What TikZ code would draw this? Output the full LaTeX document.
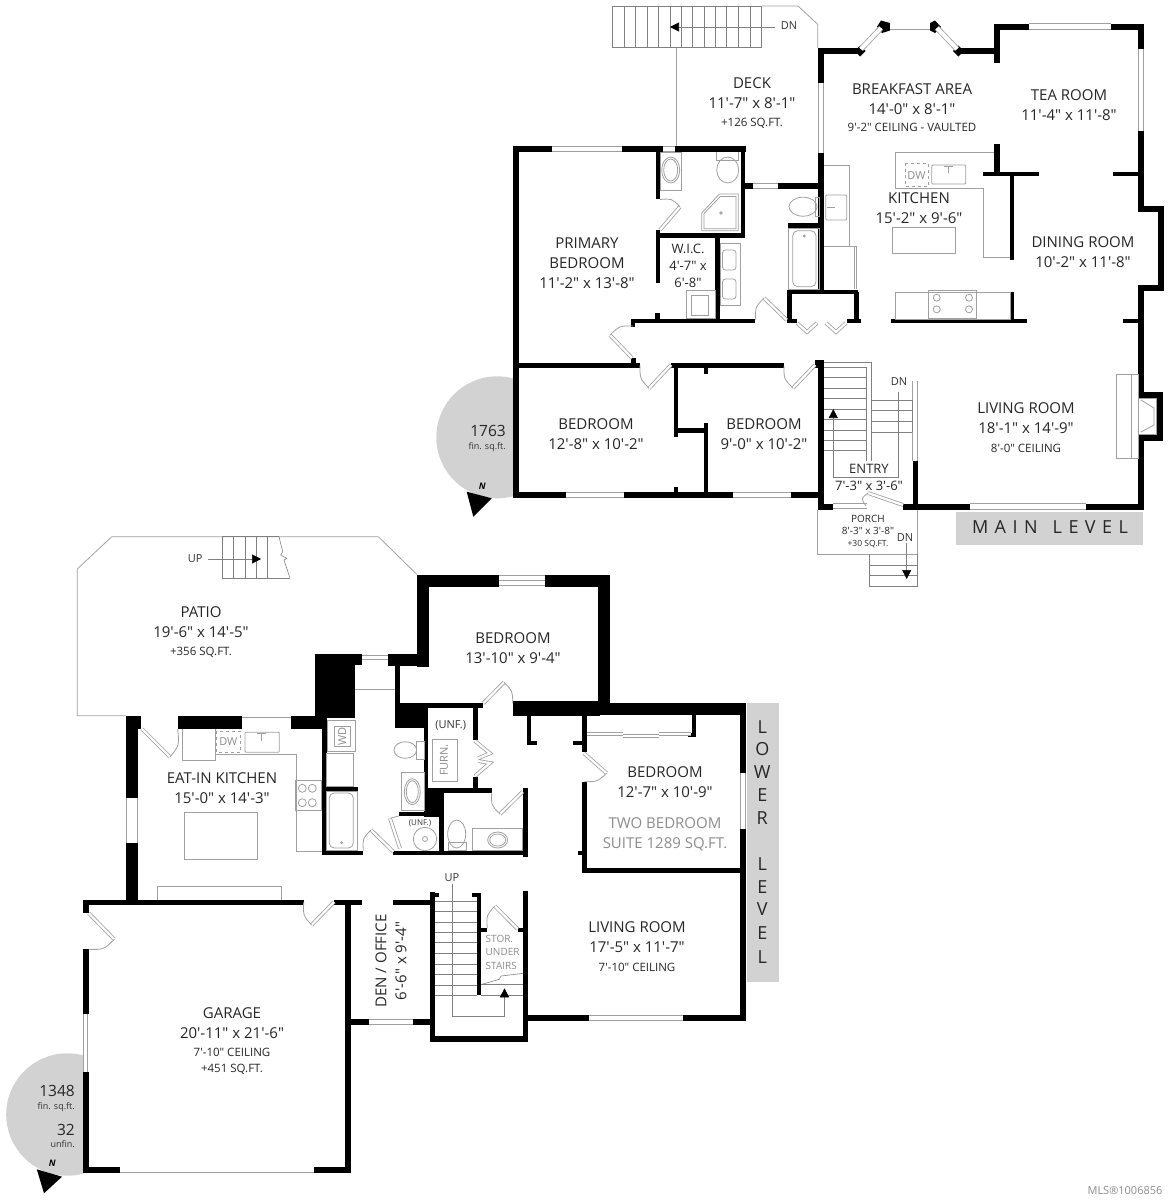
\documentclass[tikz,border=0pt]{standalone}
\usepackage{fontspec}
\usepackage{tikz}
\usetikzlibrary{calc,arrows.meta}
\newfontfamily\planfont{Open Sans}
\newfontfamily\bannerfont[LetterSpace=36]{Open Sans}
\definecolor{fixgray}{HTML}{A0A0A0}
\definecolor{pad}{HTML}{D2D2D2}
\definecolor{suite}{HTML}{8C8C8C}
\newcommand\sm[1]{{\fontsize{11.5}{17}\selectfont #1}}
\tikzset{
  wall/.style={draw=black,line width=#1,line join=miter},
  wall/.default=5pt,
  win/.style={draw=fixgray,line width=.8pt,double=white,double distance=#1},
  win/.default=4.5pt,
  fix/.style={draw=fixgray,line width=.8pt},
  tread/.style={draw=gray,line width=.6pt},
  doorleaf/.style={draw=fixgray,line width=.8pt,double=white,double distance=2.2pt},
  doorarc/.style={draw=fixgray,line width=.8pt},
  stairrun/.style={draw=gray,line width=.6pt,-{Triangle[color=black,length=9pt,width=9pt]}},
  room/.style={align=center,inner sep=0pt,text=black!85,font=\planfont\fontsize{15}{20}\selectfont},
  tag/.style={inner sep=0pt,text=black!80,font=\planfont\fontsize{11}{13}\selectfont},
  grayroom/.style={room,text=suite},
}
\newcommand\swingdoor[3]{%
  \draw[doorleaf] (#1) -- (#2);
  \draw[doorarc] (#2) .. controls ($.586*(#2)+.586*(#3)-.172*(#1)$) .. (#3);}
\begin{document}
\begin{tikzpicture}[x=1pt,y=-1pt]
\useasboundingbox (0,0) rectangle (1170,1200);

\begin{scope}
\clip (400,350) rectangle (516,520);
\fill[pad] (497.3,437.3) circle (61);
\end{scope}
\begin{scope}
\clip (0,1040) rectangle (85,1190);
\fill[pad] (67.4,1114.5) circle (61.2);
\end{scope}
\fill[pad] (956,511.7) rectangle (1143.3,545);
\fill[pad] (746.7,702.7) rectangle (779.3,981.7);
\fill[black] (466.7,491.7) -- (491.7,498.3) -- (473.3,516.7) -- cycle;
\fill[black] (36.8,1169.3) -- (62,1176.7) -- (44,1193.3) -- cycle;

% main level
\draw[fix] (676.7,47.7) -- (676.7,146);
\draw[fix] (761.7,6) -- (798,6) -- (817.7,24.3) -- (817.7,48);
\draw[tread] (612.7,6) rectangle (761.7,47.7);
\foreach \tx in {624,635.7,647.3,658.7,670,681.3,692.7,704,715.7,726.7,738.3,750}
  \draw[tread] (\tx,6) -- (\tx,47.7);
\draw[stairrun] (775,27) -- (670,27);
\node[tag] (deckdn) at (789,26) {DN};

\draw[wall=6.5pt] (552.3,149) -- (516,149) -- (516,495) -- (566,495);
\draw[wall=6.5pt] (622,149) -- (663,149) (675,149) -- (746,149);
\draw[wall=6.5pt] (624,495) -- (733,495) (791,495) -- (821,495);
\draw[win] (552.3,149) -- (622,149);
\draw[win] (663,149) -- (675,149);
\draw[win] (566,495) -- (624,495);
\draw[win] (733,495) -- (791,495);
\draw[wall=4.5pt] (658,149) -- (658,199.3) (658,230) -- (658,282.7) (657.7,313) -- (657.7,321);
\draw[wall=4.5pt] (658,235.5) -- (745,235.5);
\draw[wall=4.6pt] (743,149) -- (743,237);
\draw[wall=4.6pt] (717.5,235) -- (717.5,321);
\draw[wall=5.5pt] (745,186) -- (753,186) (778,186) -- (821,186);
\draw[win] (753,186) -- (778,186);
\draw[wall=4.5pt] (631,321) -- (755,321);
\draw[wall=4.5pt] (633,320) -- (633,327);
\draw[wall=5pt] (516,365) -- (640,365);
\draw[wall=5pt] (633,358) -- (633,363);
\draw[wall=5pt] (671,365) -- (784,365) (815,365) -- (823,365);
\draw[wall=4.6pt] (676,365) -- (676,437);
\draw[wall=5pt] (676,430) -- (706,430);
\draw[wall=4.6pt] (706,423) -- (706,495);
\draw[wall=4.6pt] (706,365) -- (706,374);
\draw[wall=4.6pt] (676,487) -- (676,492);

\draw[wall=6.5pt] (860,51) -- (821,51) -- (821,82.7);
\draw[win] (821,82.7) -- (821,153);
\draw[wall=6.5pt] (821,153) -- (821,290);
\draw[wall=4.5pt] (788,225.7) -- (821,225.7);
\draw[wall=4.5pt] (787,292) -- (858,292);
\draw[wall=4.5pt] (789.5,292) -- (789.5,323.3);
\draw[wall=4.5pt] (787,321) -- (797,321);
\draw[wall=5pt] (856,292) -- (856,323);
\draw[wall=4.5pt] (847,321) -- (861,321);
\draw[wall=4.5pt] (891,321) -- (1026.7,321);
\draw[wall=4.6pt] (1012,292) -- (1012,321);
\fill[black] (860,45.5) -- (865.5,51) -- (860,56.5) -- (854.5,51) -- cycle;
\fill[black] (881,20.5) -- (890,23) -- (890,30.5) -- (882,33) -- (877,26.7) -- cycle;
\fill[black] (935,20.5) -- (930,23) -- (930,30.5) -- (935,33) -- (941,27) -- cycle;
\fill[black] (958.3,45.5) -- (963.8,51) -- (958.3,56.5) -- (952.8,51) -- cycle;
\draw[win=4pt] (861,49) -- (881,28);
\draw[win=4.5pt] (890,26.7) -- (930,26.7);
\draw[win=4pt] (937,28) -- (957,49);
\draw[wall=6pt] (958,51) -- (997,51);
\draw[wall=6pt] (997,63.3) -- (997,26.5) -- (1029,26.5);
\draw[win=4.5pt] (1029,26.5) -- (1111,26.5);
\draw[wall=6pt] (1111,26.5) -- (1141,26.5) -- (1141,49);
\draw[win=4.5pt] (1141,49) -- (1141,131);
\draw[wall=6pt] (1141,131) -- (1141,208.7) -- (1161,208.7) -- (1161,287.5) -- (1141,287.5) -- (1141,394.5) -- (1160,394.5) -- (1160,437.5) -- (1141,437.5) -- (1141,506.7) -- (1086,506.7);
\draw[win=5pt] (970,506.7) -- (1086,506.7);
\draw[wall=6pt] (970,506.7) -- (903,506.7);
\draw[win=3.5pt] (833,506) -- (867,506);
\draw[wall=6pt] (833,506.7) -- (821,506.7) -- (821,362.7) -- (815,362.7);
\draw[wall=6pt] (997,144) -- (997,173);
\draw[wall=4.5pt] (983,174) -- (1039,174);
\draw[wall=4.8pt] (1012,174) -- (1012,260);
\draw[wall=4.5pt] (1113,174) -- (1141,174);
\draw[wall=4.5pt] (1123,321) -- (1141,321);
\draw[wall=5pt] (915,460.7) -- (915,507);
\draw[win=3.5pt] (915,380.7) -- (915,460.7);
\swingdoor{660,230}{680,206.7}{660,199.5}
\swingdoor{632,358}{610,335}{633,326}
\swingdoor{671,365}{649,388.3}{640,365}
\swingdoor{815,365}{793,388}{784,366}
\swingdoor{786.7,320}{764,298}{755.7,320}
\swingdoor{903,505}{868,493}{866,506}
\draw[doorleaf] (797,323) -- (807,332) -- (817,323) (826,323) -- (836,332) -- (846,323);

\draw[fix] (660,152) rectangle (681.7,190);
\draw[fix] (670.7,170) ellipse (9 and 13) (670.7,170) ellipse (7 and 11);
\draw[fix] (716.7,152) -- (716.7,160) -- (738.7,160) -- (738.7,152);
\draw[fix] (727.7,170) ellipse (11 and 13);
\draw[fix] (701.7,213) -- (719.3,194) -- (738.3,194) -- (738.3,230.7) -- (701.7,230.7) -- cycle;
\draw[fix] (704,213.5) -- (720.3,196.5) -- (736,196.5) -- (736,228.7) -- (704,228.7) -- cycle;
\draw[fix] (721,213) circle (1.3);
\draw[fix] (686.7,290.7) rectangle (715,318.3);
\draw[fix] (691,295) rectangle (708.5,315);
\draw[fix] (720,243) rectangle (740,305);
\draw[fix,rounded corners=3pt] (722.5,250) rectangle (736,270) (722.5,279) rectangle (736,299);
\draw[fix] (803,206.7) ellipse (14 and 9.5);
\draw[fix] (815,197) -- (819,197) -- (819,216.5) -- (815,216.5) (815,197) -- (815,216.5);
\draw[fix] (788.3,228.3) rectangle (819.3,289.3);
\draw[fix,rounded corners=5pt] (792.7,230.7) rectangle (816,286.7);
\draw[fix] (804.3,236) circle (1);
\draw[fix] (824,165) -- (849.3,165) -- (849.3,246.7) -- (824,246.7);
\draw[fix,rounded corners=1pt] (825.7,195) rectangle (846.7,220);
\draw[fix] (827,207) -- (835,207);
\draw[fix] (824,246.7) -- (856.7,246.7) -- (856.7,289.3);
\draw[fix] (854,246.7) -- (854,289.3);
\draw[fix] (994,152.7) -- (895.7,152.7) -- (895.7,188.3) -- (983.3,188.3) -- (983.3,257.3) -- (1010,257.3);
\draw[fix,dashed] (905,163.3) rectangle (928,186.7);
\node[tag,text=suite] (kitdw) at (916.5,175.5) {DW};
\draw[fix,rounded corners=1pt] (931.7,165) rectangle (965.7,184);
\draw[fix] (948.7,166) -- (948.7,173) (944,166) -- (953,166);
\draw[fix] (892.3,227.3) rectangle (955,253.3);
\draw[fix] (895.7,292.7) rectangle (1010,319);
\draw[fix] (928.3,290.7) rectangle (976.7,318.3);
\foreach \bx/\by in {936.7/297.7,936.7/309.3,969/297.7,969/309.3}
  \draw[fix] (\bx,\by) circle (3.5);

\draw[tread] (824,362.7) -- (871,362.7) -- (871,460.7);
\draw[tread] (866,367.3) -- (866,460.7);
\foreach \ty in {367.3,377.7,388,398.3,409.3,419.3,430,440.3,450.7}
  \draw[tread] (824,\ty) -- (866,\ty);
\foreach \ty in {400,410.7,421.7,432.3}
  \draw[tread] (871,\ty) -- (912.3,\ty);
\draw[tread] (912.3,400) -- (912.3,432.3);
\draw[stairrun] (898.7,391.7) -- (898.7,477.3) -- (833.3,477.3) -- (833.3,409);
\node[tag] (halldn) at (899,382) {DN};
\draw[fix] (817.3,510) -- (817.3,554.3) -- (917.7,554.3) -- (917.7,510);
\draw[tread] (869.3,554.3) -- (869.3,586) -- (917.7,586) -- (917.7,554.3);
\draw[tread] (869.3,565) -- (917.7,565) (869.3,575.3) -- (917.7,575.3);
\draw[stairrun] (906.7,543.3) -- (906.7,579);
\node[tag] (porchdn) at (905,538) {DN};
\draw[fix] (1116.7,374) rectangle (1138,458.3);
\draw[fix] (1131.7,374) -- (1131.7,458.3);
\draw[fix] (1138,398.3) rectangle (1156.7,434);
\draw[fix] (1141,400) -- (1154,408) -- (1154,425) -- (1141,432);

% lower level
\draw[fix] (125.7,715.7) -- (77.3,715.7) -- (77.3,569) -- (111.7,536.7) -- (378.3,536.7) -- (416.7,574.3);
\draw[tread] (279,536.7) -- (222.7,536.7) -- (222.7,578.3) -- (290,578.3);
\foreach \tx in {233.3,245,256.7,267.7}
  \draw[tread] (\tx,536.7) -- (\tx,578.3);
\draw[tread] (279,536.7) -- (282.7,551.7) -- (280.7,555) -- (286.7,558.3) -- (284,560) -- (290,578.3);
\draw[stairrun] (208.3,559) -- (261,559);
\node[tag] (patioup) at (195.3,559) {UP};

\draw[wall=12pt] (499,580.5) -- (422.8,580.5) -- (422.8,667);
\draw[wall=12pt] (545,580.5) -- (603.5,580.5) -- (603.5,703);
\draw[win=9pt] (499,580.5) -- (545,580.5);
\draw[fix] (499,580.5) -- (545,580.5);
\draw[wall=15pt] (513,708.3) -- (600,708.3);
\draw[wall=12pt] (600,709) -- (746,709);
\fill[black] (388.3,654) rectangle (429,666);
\fill[black] (315,654) rectangle (362,665);
\fill[black] (315,654) rectangle (354.5,718);
\draw[win=8pt] (362,659.5) -- (388.3,659.5);
\draw[fix] (362,659.5) -- (388.3,659.5);
\draw[wall=5pt] (397.5,665) -- (397.5,703);
\fill[black] (395,703.3) rectangle (428.3,728.3);
\draw[wall=5pt] (428,705.5) -- (482.7,705.5);
\fill[black] (291,716) rectangle (327,729);
\fill[black] (177.7,716) rectangle (241.7,729);
\fill[black] (125.7,716) rectangle (141,729);
\draw[win=10pt] (241.7,722.5) -- (290.7,722.5);
\draw[wall=12.6pt] (132,716) -- (132,798.3) (132,843.3) -- (132,902);
\draw[win=10.5pt] (132,798.3) -- (132,843.3);
\draw[wall=4.5pt] (324.7,718) -- (324.7,855);
\draw[wall=4.5pt] (324.7,789) -- (358,789);
\draw[wall=4.5pt] (322.7,853) -- (362.7,853) (393.3,853) -- (527.7,853);
\draw[wall=4pt] (426.3,705) -- (426.3,790);
\fill[black] (424.3,788) rectangle (443.3,816.7);
\draw[wall=4.5pt] (426,790.5) -- (491.7,790.5);
\draw[wall=4.5pt] (475.5,705) -- (475.5,740) (475.5,776.7) -- (475.5,790);
\draw[wall=4.4pt] (399,814) -- (430,814);
\draw[wall=5pt] (441,790) -- (441,853);
\draw[wall=4.6pt] (529,716) -- (529,745);
\draw[wall=4pt] (527,743) -- (536.7,743);
\draw[wall=4.4pt] (584.5,715) -- (584.5,751.7) (584.5,781.7) -- (584.5,872.7);
\draw[wall=4pt] (573,743) -- (586,743) (577.7,853) -- (586,853);
\draw[wall=4.4pt] (584,870.5) -- (742,870.5);
\draw[wall=4pt] (693.7,715) -- (693.7,737);
\draw[wall=4pt] (688,735) -- (695.7,735);
\draw[win=1.6pt] (587,734) -- (623,734);
\draw[win=1.6pt] (623,736) -- (659,736);
\draw[win=1.6pt] (659,734) -- (691,734);
\draw[wall=6pt] (743,703) -- (743,773.3) (743,829.3) -- (743,1021);
\draw[win=4.5pt] (743,773.3) -- (743,829.3);
\draw[wall=6pt] (746,1018) -- (682.7,1018);
\draw[wall=6pt] (589,1018) -- (525,1018);
\draw[win=4.5pt] (589,1018) -- (682.7,1018);
\draw[wall=4.4pt] (525.5,788) -- (525.5,856.7);
\draw[wall=4.4pt] (525.5,890.7) -- (525.5,1041.7);
\draw[wall=4pt] (518,929.7) -- (525.5,929.7);
\draw[wall=5.7pt] (432.5,891.7) -- (432.5,1039) -- (527.5,1039);
\draw[wall=4pt] (430,895) -- (439,895);
\draw[wall=4pt] (479,894) -- (479,995);
\draw[wall=4pt] (472,895) -- (481,895);
\draw[wall=4pt] (479,929.7) -- (487,929.7);
\draw[wall=5pt] (82.6,902.5) -- (303.7,902.5);
\draw[wall=5pt] (334,902.5) -- (362.3,902.5) (392.6,902.5) -- (430.5,902.5);
\draw[wall=6pt] (85.7,900) -- (85.7,913.3) (85.7,949.3) -- (85.7,1014.3) (85.7,1072.3) -- (85.7,1173.3);
\draw[win=3.5pt] (85.7,1014.3) -- (85.7,1072.3);
\draw[wall=6pt] (82.6,1170.3) -- (119.5,1170.3) (314.4,1170.3) -- (350.5,1170.3);
\draw[win=4pt] (119.5,1170.3) -- (314.4,1170.3);
\draw[wall=5.5pt] (347.8,902.5) -- (347.8,1173);
\draw[wall=6pt] (348,1022) -- (368.5,1022) (413.2,1022) -- (432,1022);
\draw[win=4pt] (368.5,1022) -- (413.2,1022);
\swingdoor{483.3,703.3}{504,682.3}{512.7,703.3}
\swingdoor{584,753.3}{606.7,773.3}{584,781.7}
\swingdoor{393.3,851.7}{371,830}{363.3,850.7}
\swingdoor{522.7,791.7}{500,814}{491.7,792.7}
\swingdoor{142,729}{170,757}{177.7,729}
\swingdoor{517.6,929}{494.8,906}{487.3,928.3}
\swingdoor{334,902}{311.6,925}{303.7,902}
\swingdoor{88.8,913.3}{114.3,939.3}{88.8,949.3}
\draw[doorleaf] (475,741) -- (490,753.3) -- (478,758.3) (478,761) -- (490,763) -- (475,776);
\draw[doorleaf] (390,818.3) -- (400,848.3);
\draw[fix] (390,818.3) -- (399,816);

\draw[fix] (355,689) -- (395,689);
\draw[fix] (327.7,720) rectangle (355,751.7);
\draw[fix] (334,726.7) rectangle (350.7,746.7);
\node[tag,text=suite,rotate=90] (lowwd) at (342.3,736.7) {WD};
\draw[fix] (326.7,753.3) rectangle (353.3,786.7);
\draw[fix] (326.7,791) rectangle (357.3,850.7);
\draw[fix,rounded corners=5pt] (329.3,793) rectangle (353.3,848);
\draw[fix] (341.7,842.7) circle (1);
\draw[fix] (405.3,750) ellipse (11.3 and 8.3);
\draw[fix] (416.7,741) rectangle (424,759.5);
\draw[fix] (401.7,772.7) rectangle (424,810);
\draw[fix] (412.3,791.7) ellipse (8 and 13) (412.3,791.7) ellipse (6 and 11);
\draw[fix] (425,839) circle (11.7) (425,839) circle (2.5);
\draw[fix] (456.7,834) ellipse (9 and 14);
\draw[fix] (448,842) rectangle (466,850.7);
\draw[fix] (472.3,828.3) rectangle (522.7,850.7);
\draw[fix] (497.7,840) ellipse (10 and 8) (497.7,840) ellipse (8 and 6);
\draw[fix] (432.3,739.3) rectangle (457.3,781.7);
\draw[fix] (182.3,729) -- (182.3,760.7) -- (215.7,760.7) -- (215.7,729);
\draw[fix,dashed] (216.7,731) rectangle (240,752.7);
\node[tag,text=suite] (lowdw) at (228.3,742) {DW};
\draw[fix,rounded corners=1pt] (245,732.3) rectangle (279.3,752.3);
\draw[fix] (261.5,733) -- (261.5,741) (257,733) -- (266,733);
\draw[fix] (215.7,754) -- (296.7,754) -- (296.7,851.7) -- (322.3,851.7);
\draw[fix] (295.7,780) rectangle (321.7,810);
\foreach \bx/\by in {302.3/788.3,312.3/788.3,302.3/802.7,312.3/802.7}
  \draw[fix] (\bx,\by) circle (4);
\draw[fix] (184,812.7) rectangle (257.3,859.3);
\draw[fix] (157.7,900) -- (157.7,886) -- (281.7,886) -- (281.7,900);
\foreach \ty in {901.7,911.7,922.3,932.7,942.7,953.3,964,974.3,985,995.3}
  \draw[tread] (434.6,\ty) -- (477,\ty);
\draw[tread] (481,984.3) -- (523.4,984.3) (481,995) -- (523.4,995);
\draw[tread] (482,984.3) -- (499.3,979.3) -- (501,976) -- (523.4,973.3);
\draw[stairrun] (452,884) -- (452,1016.3) -- (504.5,1016.3) -- (504.5,988.3);
\node[tag] (stairup) at (452,878) {UP};

\node[room] (deck) at (752,103.5) {DECK\\11'-7" x 8'-1"\\[-2pt]\sm{+126 SQ.FT.}};
\node[room] (breakfast) at (912,108) {BREAKFAST AREA\\14'-0" x 8'-1"\\[-3pt]\sm{9'-2" CEILING - VAULTED}};
\node[room] (tearoom) at (1069,105) {TEA ROOM\\11'-4" x 11'-8"};
\node[room] (kitchen) at (919,208.5) {KITCHEN\\15'-2" x 9'-6"};
\node[room] (dining) at (1083,252) {DINING ROOM\\10'-2" x 11'-8"};
\node[room] (primary) at (587,263.5) {PRIMARY\\BEDROOM\\11'-2" x 13'-8"};
\node[room,font=\planfont\fontsize{13}{17}\selectfont] (wic) at (688,266) {W.I.C.\\4'-7" x\\6'-8"};
\node[room] (bedone) at (596,434) {BEDROOM\\12'-8" x 10'-2"};
\node[room] (bedtwo) at (764,434) {BEDROOM\\9'-0" x 10'-2"};
\node[room] (living) at (1026,428) {LIVING ROOM\\18'-1" x 14'-9"\\[-1pt]\sm{8'-0" CEILING}};
\node[room,font=\planfont\fontsize{13}{16.5}\selectfont] (entry) at (869,477.5) {ENTRY\\7'-3" x 3'-6"};
\node[room,font=\planfont\fontsize{10}{12}\selectfont] (porch) at (868,532) {PORCH\\8'-3" x 3'-8"\\{\fontsize{8.5}{12}\selectfont +30 SQ.FT.}};
\node[room] (patio) at (201,632) {PATIO\\19'-6" x 14'-5"\\[-2pt]\sm{+356 SQ.FT.}};
\node[room] (bedlow) at (513,648) {BEDROOM\\13'-10" x 9'-4"};
\node[room] (eatin) at (222,788) {EAT-IN KITCHEN\\15'-0" x 14'-3"};
\node[room] (bedsuite) at (665,782) {BEDROOM\\12'-7" x 10'-9"};
\node[grayroom] (suite) at (665,834.5) {TWO BEDROOM\\SUITE 1289 SQ.FT.};
\node[room] (livlow) at (637,946.5) {LIVING ROOM\\17'-5" x 11'-7"\\[-1pt]\sm{7'-10" CEILING}};
\node[room] (garage) at (232,1041.5) {GARAGE\\20'-11" x 21'-6"\\[-2pt]\sm{7'-10" CEILING}\\[-4pt]\sm{+451 SQ.FT.}};
\node[room,rotate=90] (den) at (391,961) {DEN / OFFICE\\6'-6" x 9'-4"};
\node[room,text=black!80,font=\planfont\fontsize{11}{13.5}\selectfont] (furnunf) at (450.7,725) {(UNF.)};
\node[tag,text=suite,rotate=90,font=\planfont\fontsize{11}{13}\selectfont] (furn) at (444,760) {FURN.};
\node[tag,font=\planfont\fontsize{8}{10}\selectfont] (closetunf) at (420,823.3) {(UNF.)};
\node[tag,text=suite,align=left,anchor=north west,font=\planfont\fontsize{10}{13.4}\selectfont] (stor) at (485.5,935) {STOR.\\UNDER\\STAIRS};

\node[room,anchor=east,font=\planfont\fontsize{15.5}{16}\selectfont] (mainarea) at (506,431) {1763};
\node[tag,anchor=east,font=\planfont\fontsize{9}{12}\selectfont] (mainfin) at (506,447.3) {fin. sq.ft.};
\node[tag,text=black,font=\planfont\bfseries\itshape\fontsize{9}{11}\selectfont] (mainn) at (482.3,486.7) {N};
\node[room,anchor=east,font=\planfont\fontsize{15.5}{16}\selectfont] (lowarea) at (75,1091) {1348};
\node[tag,anchor=east,font=\planfont\fontsize{9}{12}\selectfont] (lowfin) at (75,1106.7) {fin. sq.ft.};
\node[room,anchor=east,font=\planfont\fontsize{15.5}{16}\selectfont] (lowunf) at (75,1130) {32};
\node[tag,anchor=east,font=\planfont\fontsize{9}{12}\selectfont] (lowunft) at (75,1144) {unfin.};
\node[tag,text=black,font=\planfont\bfseries\itshape\fontsize{9}{11}\selectfont] (lown) at (52.3,1163.3) {N};

\node[inner sep=0pt,text=black!85,font=\bannerfont\fontsize{18}{20}\selectfont] (mainbanner) at (1050,527) {MAIN\hspace{15pt}LEVEL};
\foreach \ltr/\ly in {L/727,O/749,W/772,E/795,R/818,L/864,E/887,V/909,E/933,L/957}
  \node[inner sep=0pt,text=black!85,font=\planfont\fontsize{18}{20}\selectfont] (low\ly) at (762.3,\ly) {\ltr};
\node[tag,text=suite,font=\planfont\fontsize{11}{13}\selectfont] (mls) at (1125,1191) {MLS®1006856};
\end{tikzpicture}
\end{document}
